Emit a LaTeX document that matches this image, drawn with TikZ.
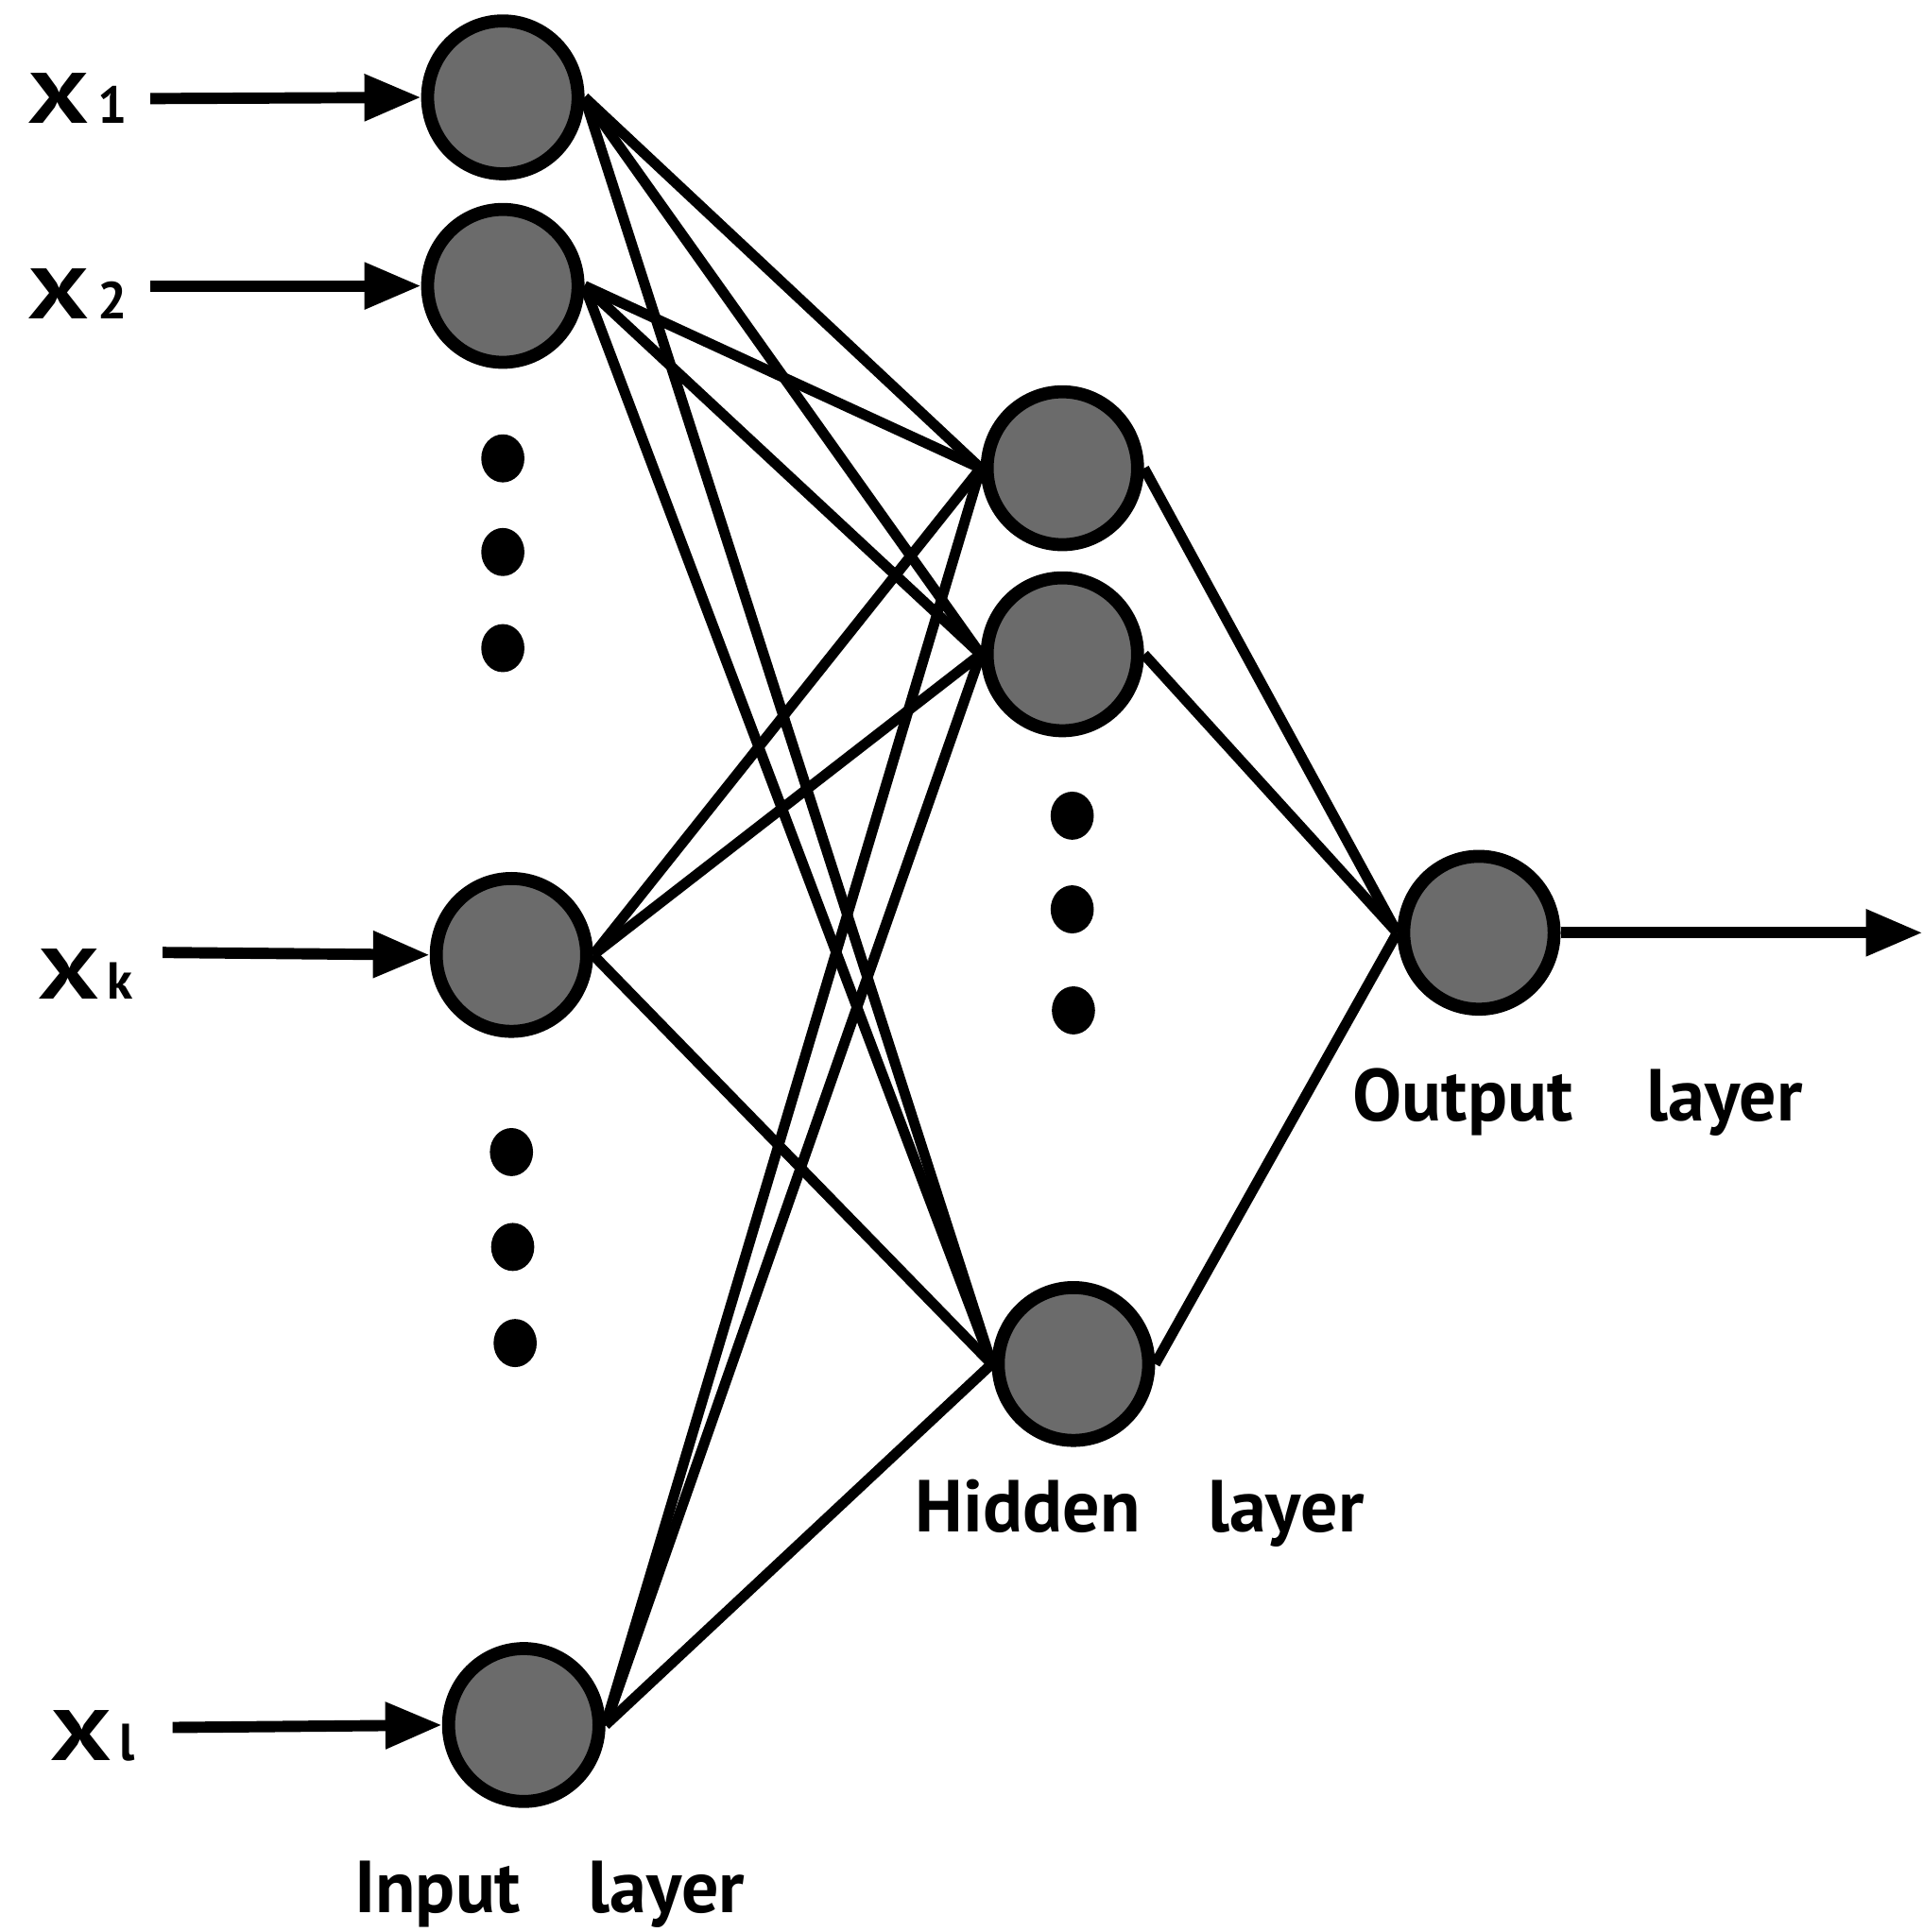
\documentclass[tikz,border=0pt]{standalone}
\usepackage{fontspec}
\setmainfont{PT Sans}
\usetikzlibrary{shapes.geometric,arrows.meta}
\tikzset{
  neuron/.style={ellipse,draw=black,line width=3pt,fill=black!58,minimum width=1.22cm,minimum height=1.24cm,inner sep=0pt},
  vdot/.style={ellipse,fill=black,minimum width=0.35cm,minimum height=0.39cm,inner sep=0pt},
  edge/.style={line width=2.4pt,black},
  inarrow/.style={line width=2.6pt,-{Triangle[length=0.46cm,width=0.36cm]}},
  lbl/.style={font=\fontsize{17}{20}\selectfont\bfseries,inner sep=0pt},
  xlbl/.style={font=\fontsize{16.5}{18}\selectfont\bfseries,inner sep=0pt,anchor=base west}
}
\newcommand{\subx}[1]{\scalebox{1.35}[1]{X}\hspace{0.07cm}{\fontsize{12}{12}\selectfont #1}}
\begin{document}
\begin{tikzpicture}[x=0.01cm,y=-0.01cm]
\useasboundingbox (0,0) rectangle (1560,1568);
% input nodes
\node[neuron] (I1) at (408,79) {};
\node[neuron] (I2) at (408,232) {};
\node[neuron] (Ik) at (415,775) {};
\node[neuron] (Il) at (425,1400) {};
% hidden nodes
\node[neuron] (H1) at (862,380) {};
\node[neuron] (H2) at (862,531) {};
\node[neuron] (H3) at (871,1107) {};
% output node
\node[neuron] (O) at (1200,757) {};
% dots
\node[vdot] (d1) at (408,372) {};
\node[vdot] (d2) at (408,448) {};
\node[vdot] (d3) at (408,526) {};
\node[vdot] (d4) at (415,935) {};
\node[vdot] (d5) at (416,1012) {};
\node[vdot] (d6) at (418,1090) {};
\node[vdot] (d7) at (870,662) {};
\node[vdot] (d8) at (870,738) {};
\node[vdot] (d9) at (871,820) {};
% edges input -> hidden
\foreach \s in {I1,I2,Ik,Il}{
  \foreach \t in {H1,H2,H3}{
    \draw[edge] (\s.east) -- (\t.west);
  }
}
% hidden -> output
\foreach \t in {H1,H2,H3}{
  \draw[edge] (\t.east) -- (O.west);
}
% input labels and arrows
\node[xlbl] (x1) at (22,100) {\subx{1}};
\node[xlbl] (x2) at (22,259) {\subx{2}};
\node[xlbl] (xk) at (30,811) {\subx{k}};
\node[xlbl] (xl) at (40,1429) {\subx{l}};
\coordinate (a1) at (122,80);
\coordinate (a2) at (122,232);
\coordinate (ak) at (132,773);
\coordinate (al) at (140,1402);
\draw[inarrow] (a1) -- (I1.west);
\draw[inarrow] (a2) -- (I2.west);
\draw[inarrow] (ak) -- (Ik.west);
\draw[inarrow] (al) -- (Il.west);
% output arrow
\coordinate (oend) at (1560,757);
\draw[inarrow] (O.east) -- (oend);
% layer labels
\node[lbl,anchor=base west] (tin) at (287,1552) {Input\hspace{0.55cm}layer};
\node[lbl,anchor=base west] (thid) at (742,1243) {Hidden\hspace{0.55cm}layer};
\node[lbl,anchor=base west] (tout) at (1097,910) {Output\hspace{0.6cm}layer};
\end{tikzpicture}
\end{document}
